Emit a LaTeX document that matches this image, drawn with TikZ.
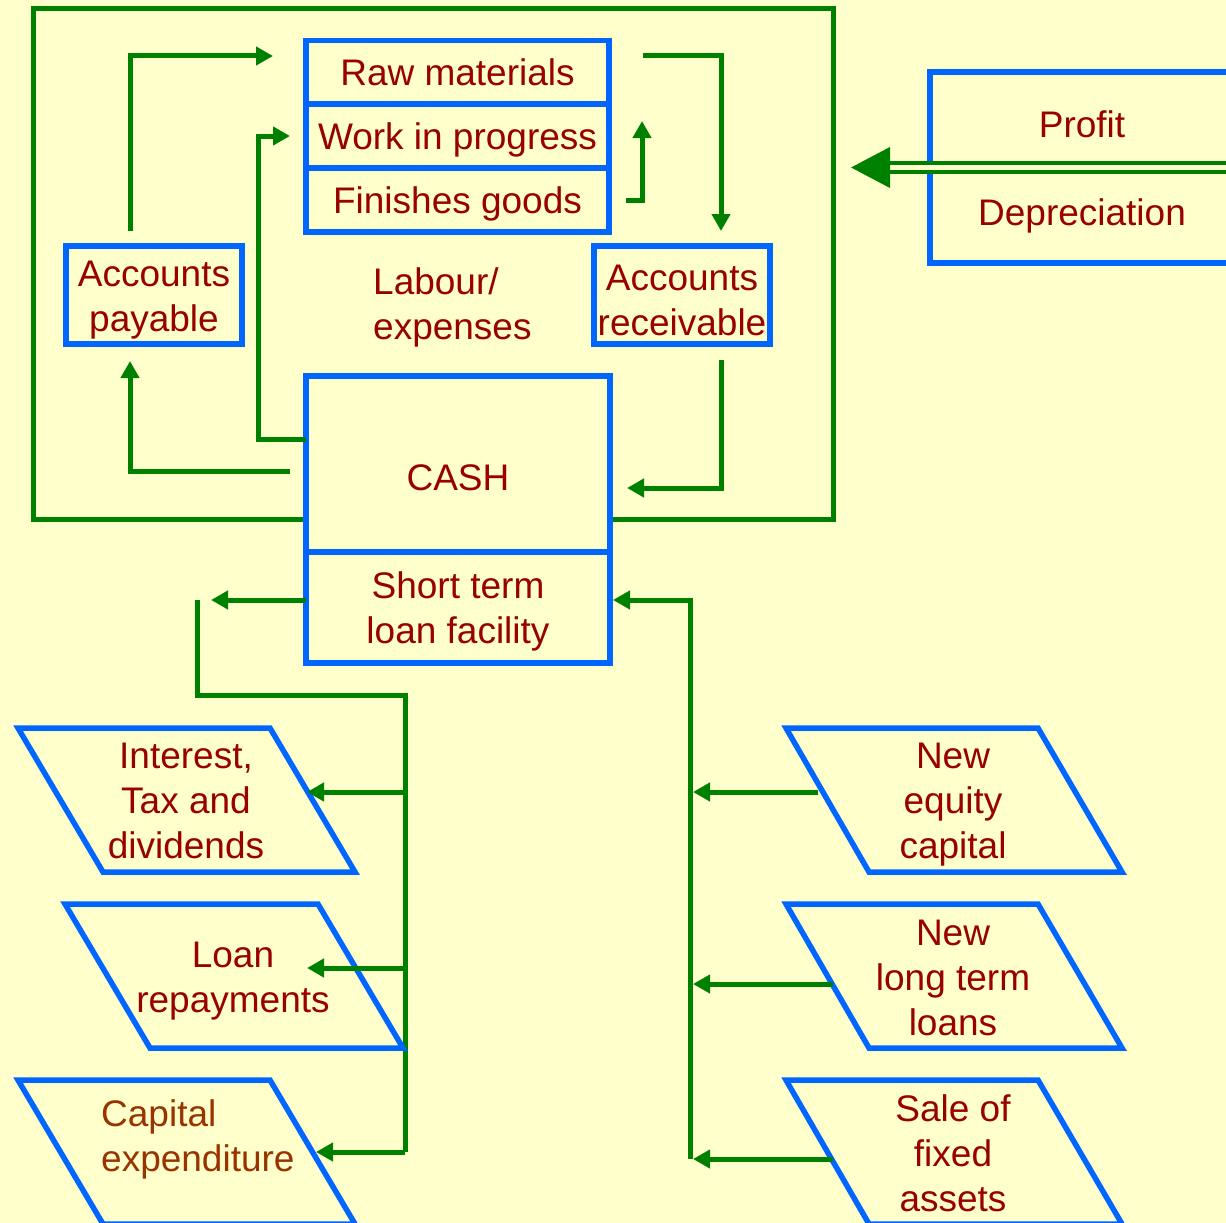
\documentclass[tikz,border=0pt]{standalone}
\usepackage{fontspec}
\setmainfont{Liberation Sans}
\usetikzlibrary{arrows.meta,calc}
\definecolor{bg}{HTML}{FFFFCC}
\definecolor{flowgreen}{HTML}{008000}
\definecolor{boxblue}{HTML}{0066FF}
\definecolor{txtred}{HTML}{990000}
\definecolor{txtbrown}{HTML}{993300}
\begin{document}
\begin{tikzpicture}[x=1pt,y=-1pt,
  box/.style={draw=boxblue, line width=5.5pt, fill=bg, inner sep=0pt, outer sep=0pt,
    align=center, text=txtred, font=\fontsize{37}{45}\selectfont},
  capline/.style={text height=26.5pt, text depth=0pt},
  para/.style={draw=boxblue, line width=5.5pt, fill=bg, line join=miter},
  lbl/.style={text=txtred, align=center, inner sep=0pt, font=\fontsize{37}{45}\selectfont},
  link/.style={draw=flowgreen, line width=5pt},
  flow/.style={link, -{Triangle[length=17pt,width=18pt]}},
]
\fill[bg] (0,0) rectangle (1226,1223);
\useasboundingbox (0,0) rectangle (1226,1223);
\clip (0,0) rectangle (1226,1223);

% working capital cycle frame
\draw[link] (33,9) rectangle (833,519);

% inventory stack
\node[box, capline, minimum width=303pt, minimum height=64pt] (raw) at (457.5,72.5) {Raw materials};
\node[box, capline, minimum width=303pt, minimum height=64pt] (wip) at (457.5,136) {Work in progress};
\node[box, capline, minimum width=303pt, minimum height=64pt] (fin) at (457.5,200) {Finishes goods};

% debtors and creditors
\node[box, minimum width=176pt, minimum height=98pt] (ap) at (154,295) {};
\node[lbl] (apText) at (154,300.5) {Accounts\\payable};
\node[box, minimum width=176pt, minimum height=98pt] (ar) at (682,295) {};
\node[lbl] (arText) at (682,300.5) {Accounts\\receivable};

\node[lbl, align=left, anchor=north west] (lab) at (373,267) {Labour/\\expenses};

% cash and overdraft
\node[box, minimum width=304pt, minimum height=176pt, text height=53pt, text depth=0pt] (cash) at (458,464) {CASH};
\node[box, minimum width=304pt, minimum height=111pt] (stl) at (458,607.5) {};
\node[lbl] (stlText) at (458,611.5) {Short term\\loan facility};

% profit and depreciation
\node[box, minimum width=304pt, minimum height=191pt] (pd) at (1082,167.5) {};
\node[lbl] (profit) at (1082,124.5) {Profit};
\node[lbl] (depr) at (1082,216) {Depreciation};
\coordinate (inflow) at (851,167.5);
\draw[link, line width=4pt, double=bg, double distance=5pt,
  -{Triangle[length=39pt,width=40pt]}] (pd.east) -- (inflow);

% flows round the cycle
\draw[flow] ($(ap.north)+(-24,-15)$) |- ($(raw.west)+(-33,-16.5)$);
\draw[flow] ($(cash.west)+(0,-25)$) -- ++(-48,0) |- ($(wip.west)+(-16,0)$);
\draw[flow] ($(cash.west)+(-16,7)$) -| ($(ap.south)+(-24,17)$);
\draw[flow] ($(raw.east)+(34,-16.5)$) -| ($(ar.north)+(39,-15)$);
\draw[flow] ($(fin.east)+(17,0)$) -| ($(wip.east)+(33,-15)$);
\draw[flow] ($(ar.south)+(39,16)$) |- ($(cash.east)+(17,24)$);

% outflows
\draw[flow] ($(stl.west)+(0,-7.5)$) -- ($(stl.west)+(-95,-7.5)$);
\coordinate (outTop) at (197,600);
\coordinate (outKnee) at (405,695);
\coordinate (outEnd) at (405,1152);
\draw[link] (outTop) |- (outKnee) -- (outEnd);

\draw[para] (18,728) -- (270,728) -- (355,872) -- (103,872) -- cycle;
\draw[para] (65,904) -- (318,904) -- (403,1048) -- (150,1048) -- cycle;
\draw[para] (18,1080) -- (270,1080) -- (355,1224) -- (103,1224) -- cycle;
\node[lbl] (itd) at (186,801) {Interest,\\Tax and\\dividends};
\node[lbl] (loan) at (233,981) {Loan\\repayments};
\node[lbl, text=txtbrown, align=left, anchor=west] (capex) at (101,1139) {Capital\\expenditure};

\draw[flow] (outKnee |- 0,792) -- (307,792);
\draw[flow] (outKnee |- 0,968) -- (307,968);
\draw[flow] (outEnd) -- (316,1152);

% inflows
\draw[para] (786,728) -- (1038,728) -- (1122,872) -- (869,872) -- cycle;
\draw[para] (786,904) -- (1038,904) -- (1122,1048) -- (869,1048) -- cycle;
\draw[para] (786,1080) -- (1038,1080) -- (1122,1224) -- (869,1224) -- cycle;
\node[lbl] (eq) at (953,805) {New\\equity\\capital};
\node[lbl] (ltl) at (953,978) {New\\long term\\loans};
\node[lbl] (sfa) at (953,1153) {Sale of\\fixed\\assets};

\coordinate (inEnd) at (690,1159);
\draw[flow] (inEnd) -- (690,600) -- ($(stl.east)+(3,-7.5)$);
\draw[flow] (818,792) -- (693,792);
\draw[flow] (833,984) -- (693,984);
\draw[flow] (833,1159) -- (693,1159);
\end{tikzpicture}
\end{document}
